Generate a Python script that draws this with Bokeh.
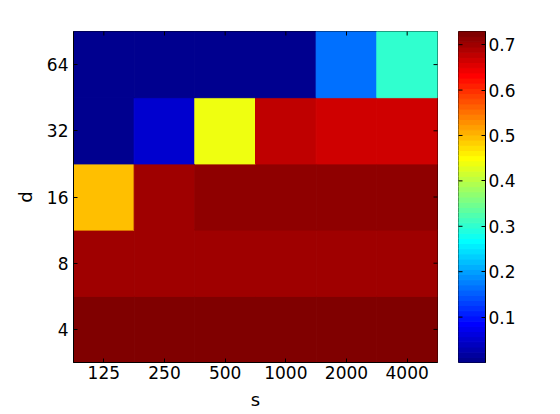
import math
import numpy as np
from bokeh.plotting import figure
from bokeh.layouts import row
from bokeh.models import (ColumnDataSource, Range1d, LinearColorMapper, FixedTicker)
from bokeh.embed import file_html
from bokeh.resources import INLINE

# ---- data ----
s_labels = ["125", "250", "500", "1000", "2000", "4000"]
d_labels = ["4", "8", "16", "32", "64"]
vals_d4 = [0.729, 0.727, 0.728, 0.726, 0.727, 0.725]
vals_d8 = [0.700, 0.701, 0.702, 0.701, 0.700, 0.699]
vals_d16 = [0.495, 0.700, 0.712, 0.713, 0.712, 0.711]
vals_d32 = [0.003, 0.051, 0.439, 0.678, 0.666, 0.666]
vals_d64 = [0.000, 0.001, 0.002, 0.004, 0.165, 0.302]
cbar_ticks = [0.1, 0.2, 0.3, 0.4, 0.5, 0.6, 0.7]

rows_vals = [vals_d4, vals_d8, vals_d16, vals_d32, vals_d64]

# ---- MATLAB jet(64) palette (style) ----
def jet(m=64):
    n = math.ceil(m / 4)
    u = [i / n for i in range(1, n + 1)] + [1.0] * (n - 1) + [i / n for i in range(n, 0, -1)]
    g = [math.ceil(n / 2) - (1 if m % 4 == 1 else 0) + k for k in range(1, len(u) + 1)]
    J = np.zeros((m, 3))
    for k, uu in enumerate(u):
        gi = g[k]
        ri = gi + n
        bi = gi - n
        if 1 <= ri <= m:
            J[ri - 1, 0] = uu
        if 1 <= gi <= m:
            J[gi - 1, 1] = uu
        if 1 <= bi <= m:
            J[bi - 1, 2] = uu
    return ["#%02x%02x%02x" % tuple(int(round(c * 255)) for c in rgb) for rgb in J]

palette = jet(64)
all_vals = [v for r in rows_vals for v in r]
low, high = min(all_vals), max(all_vals)
mapper = LinearColorMapper(palette=palette, low=low, high=high)

ix = list(range(len(s_labels)))
iy = list(range(len(d_labels)))
xs, ys, vs = [], [], []
for j, r in enumerate(rows_vals):
    for i, v in enumerate(r):
        xs.append(i); ys.append(j); vs.append(v)
src = ColumnDataSource(dict(x=xs, y=ys, v=vs))

FONT = "DejaVu Sans"
FS = "17px"
LFS = "18px"
TICK = 8  # dash marker size -> half shows inside the frame

xr = Range1d(-0.5, len(s_labels) - 0.5)
yr = Range1d(-0.5, len(d_labels) - 0.5)
p = figure(width=448, height=414, x_range=xr, y_range=yr,
           output_backend="svg", toolbar_location=None,
           min_border_left=73, min_border_right=11, min_border_top=30, min_border_bottom=52)
p.rect(x="x", y="y", width=1, height=1, source=src,
       fill_color={"field": "v", "transform": mapper},
       line_color={"field": "v", "transform": mapper}, line_width=1)
p.grid.visible = False
p.outline_line_color = "black"
p.outline_line_alpha = 1
p.background_fill_color = "white"

p.xaxis.ticker = FixedTicker(ticks=ix)
p.xaxis.major_label_overrides = {i: s for i, s in zip(ix, s_labels)}
p.yaxis.ticker = FixedTicker(ticks=iy)
p.yaxis.major_label_overrides = {j: d for j, d in zip(iy, d_labels)}
for ax in (p.xaxis[0], p.yaxis[0]):
    ax.major_tick_in = 4
    ax.major_tick_out = 0
    ax.minor_tick_in = 0
    ax.minor_tick_out = 0
    ax.major_label_text_font = FONT
    ax.major_label_text_font_size = FS
    ax.major_label_text_color = "black"
    ax.axis_label_text_font = FONT
    ax.axis_label_text_font_size = LFS
    ax.axis_label_text_font_style = "normal"
    ax.axis_label_text_color = "black"
    ax.axis_line_color = "black"
    ax.major_tick_line_color = "black"
p.xaxis.axis_label = "s"
p.yaxis.axis_label = "d"
p.xaxis.major_label_standoff = 3
p.yaxis.major_label_standoff = 5
p.xaxis.axis_label_standoff = 7
p.yaxis.axis_label_standoff = 8

# inward ticks on top and right edges of the box
p.scatter(x=ix, y=[yr.end] * len(ix), marker="dash", angle=math.pi / 2, size=TICK,
          line_color="black", line_width=1)
p.scatter(x=[xr.end] * len(iy), y=iy, marker="dash", size=TICK,
          line_color="black", line_width=1)

# ---- colorbar figure ----
step = (high - low) / len(palette)
cb_src = ColumnDataSource(dict(
    bottom=[low + i * step for i in range(len(palette))],
    top=[low + (i + 1) * step for i in range(len(palette))],
    color=palette))
cxr = Range1d(0, 1)
cb = figure(width=87, height=414, x_range=cxr, y_range=Range1d(low, high),
            output_backend="svg", toolbar_location=None, x_axis_type=None,
            y_axis_location="right",
            min_border_left=10, min_border_right=50, min_border_top=31, min_border_bottom=51)
cb.quad(left=0, right=1, bottom="bottom", top="top", fill_color="color", line_color="color",
        line_width=1, source=cb_src)
cb.grid.visible = False
cb.outline_line_color = "black"
cb.outline_line_alpha = 1
ya = cb.yaxis[0]
ya.ticker = FixedTicker(ticks=cbar_ticks)
ya.major_tick_in = 4
ya.major_tick_out = 0
ya.minor_tick_in = 0
ya.minor_tick_out = 0
ya.major_label_text_font = FONT
ya.major_label_text_font_size = FS
ya.major_label_text_color = "black"
ya.major_label_standoff = 3
ya.axis_line_color = "black"
ya.major_tick_line_color = "black"
cb.scatter(x=[cxr.start] * len(cbar_ticks), y=cbar_ticks, marker="dash", size=TICK,
           line_color="black", line_width=1)

layout = row(p, cb)
open("out.html", "w").write(file_html(layout, INLINE))
